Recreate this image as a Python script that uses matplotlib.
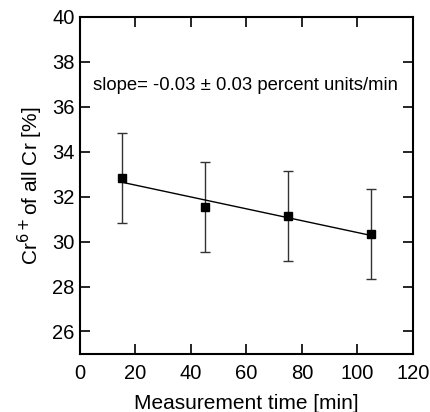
import numpy as np
import matplotlib
matplotlib.use("Agg")
import matplotlib.pyplot as plt

plt.rcParams["font.family"] = ["Liberation Sans", "DejaVu Sans"]

# measured Cr6+ fraction vs time
time_min = [15, 45, 75, 105]
cr6_pct = [32.83, 31.53, 31.15, 30.32]
cr6_err = [2.0, 2.0, 2.0, 2.0]

slope_text = "slope= -0.03 \u00b1 0.03 percent units/min"

fig = plt.figure(figsize=(4.3, 4.12), dpi=100)
ax = fig.add_axes([0.186, 0.141, 0.774, 0.818])

ax.errorbar(time_min, cr6_pct, yerr=cr6_err, fmt="none", ecolor="#333333",
            elinewidth=1.0, capsize=3.5, capthick=1.0)
ax.plot(time_min, cr6_pct, "s", color="black", markersize=6)

# linear fit over data
p = np.polyfit(time_min, cr6_pct, 1)
xf = np.array([time_min[0], time_min[-1]])
ax.plot(xf, np.polyval(p, xf), color="black", linewidth=1.0)

ax.text(4.7, 36.93, slope_text, fontsize=13.3, va="center", ha="left")

ax.set_xlim(0, 120)
ax.set_ylim(25, 40)
ax.set_xticks([0, 20, 40, 60, 80, 100, 120])
ax.set_yticks([26, 28, 30, 32, 34, 36, 38, 40])
ax.tick_params(direction="in", length=7, width=1.2, labelsize=14.5,
               top=True, right=True, pad=7)
ax.tick_params(axis="y", pad=4)
for s in ax.spines.values():
    s.set_linewidth(1.5)

ax.set_xlabel("Measurement time [min]", fontsize=15, labelpad=8)
ax.set_ylabel("Cr$^{6+}$of all Cr [%]", fontsize=15, labelpad=5)

fig.savefig("out.png", dpi=100)
